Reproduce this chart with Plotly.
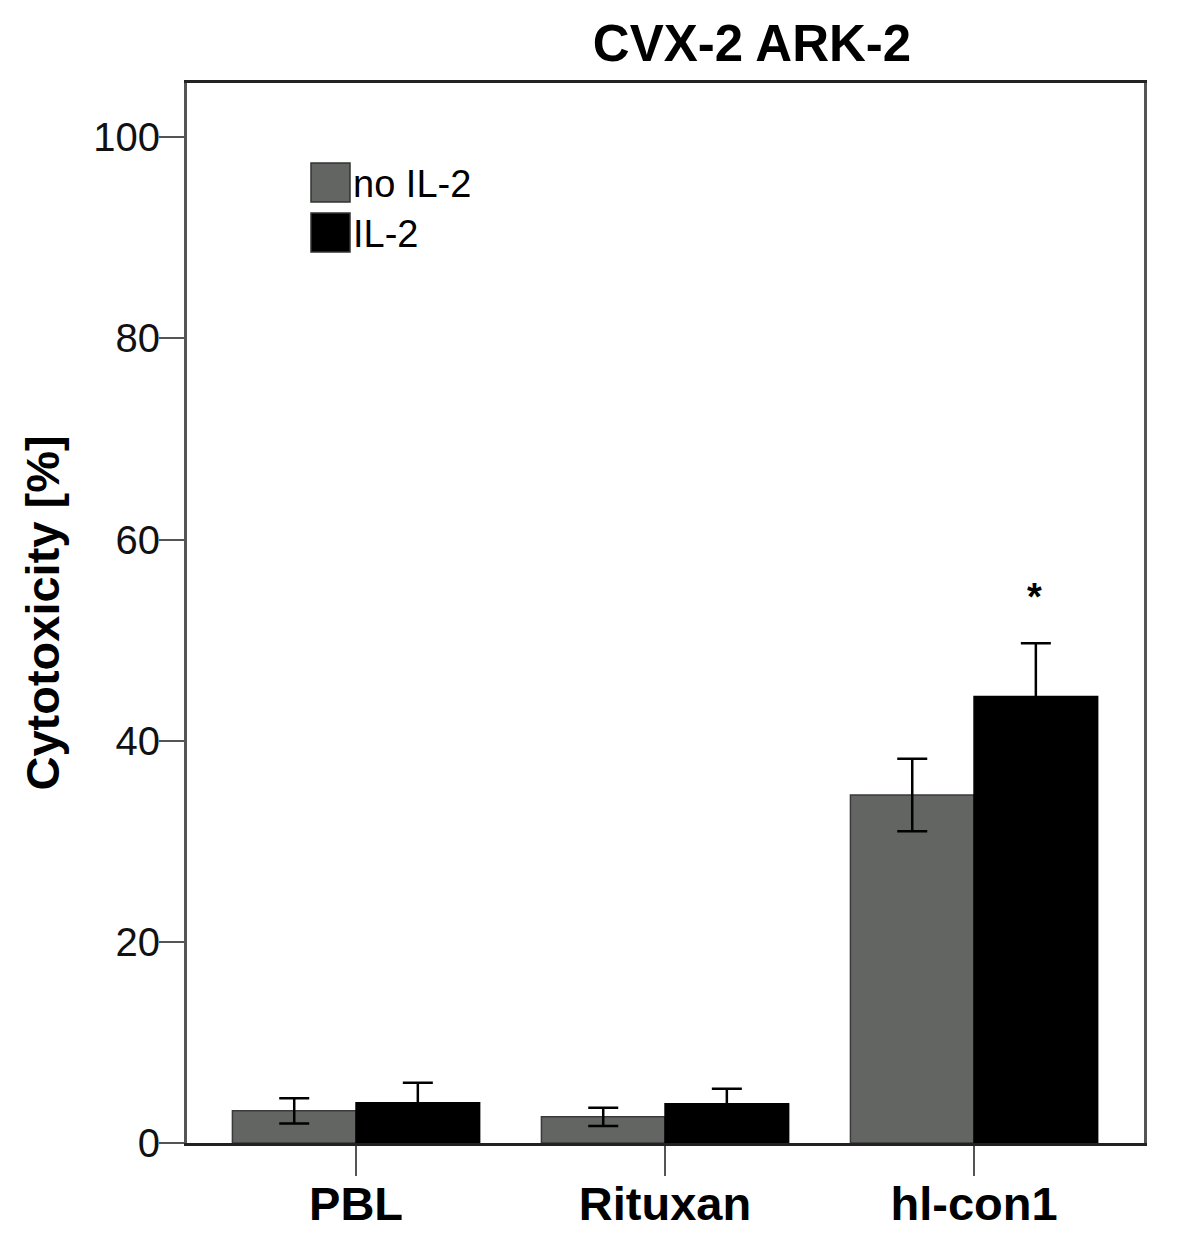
import plotly.graph_objects as go

# categorias e séries
categories = ['PBL', 'Rituxan', 'hl-con1']
no_il2 = [3.2, 2.6, 34.6]
no_il2_err = [1.25, 0.9, 3.6]
il2 = [4.0, 3.9, 44.4]
il2_err = [2.0, 1.5, 5.3]
y_ticks = [0, 20, 40, 60, 80, 100]

gray = '#626562'
font_reg = 'Liberation Sans, Arial, sans-serif'

# a página tem margem de 8px no body: compensar nas margens
off = 8
L, R, T, B = 187 - off, 1200 - (1144 - off), 83 - off, 1246 - (1143 - off)
pw, ph = 1144 - 187, 1143 - 83

fig = go.Figure()
fig.add_trace(go.Bar(
    name='no IL-2', x=categories, y=no_il2,
    marker=dict(color=gray, line=dict(color='#3a3a3a', width=1.5)),
    error_y=dict(type='data', array=no_il2_err, color='black', thickness=2.5, width=15),
))
fig.add_trace(go.Bar(
    name='IL-2', x=categories, y=il2,
    marker=dict(color='black', line=dict(color='black', width=1.5)),
    error_y=dict(type='data', array=il2_err, color='black', thickness=2.5, width=15),
))

# asterisco de significância acima do hl-con1 IL-2
fig.add_annotation(x='hl-con1', y=il2[2] + il2_err[2] + 4.6, text='<b>*</b>', showarrow=False,
                   xshift=60, font=dict(family=font_reg, size=38, color='black'))

# legenda desenhada à mão (caixas grandes como na figura original)
legend_items = [('no IL-2', gray), ('IL-2', 'black')]
for i, (lab, col) in enumerate(legend_items):
    y0 = 163 + i * 50
    fig.add_shape(type='rect', xref='paper', yref='paper',
                  x0=(311 - 187) / pw, x1=(350 - 187) / pw,
                  y0=1 - (y0 + 39 - 83) / ph, y1=1 - (y0 - 83) / ph,
                  fillcolor=col, line=dict(color='#333', width=1.5))
    fig.add_annotation(xref='paper', yref='paper', x=(351 - 187) / pw,
                       y=1 - (y0 + 21 - 83) / ph, text=lab, showarrow=False,
                       xanchor='left', yanchor='middle',
                       font=dict(family=font_reg, size=38, color='black'))

fig.update_layout(
    width=1200, height=1246,
    barmode='group', bargap=0.2, bargroupgap=0,
    showlegend=False,
    paper_bgcolor='white', plot_bgcolor='white',
    margin=dict(l=L, r=R, t=T, b=B, autoexpand=False),
    title=dict(text='<b>CVX-2 ARK-2</b>', x=(752 - off) / 1200, xanchor='center',
               y=1 - (43 - off) / 1246, yanchor='middle',
               font=dict(family=font_reg, size=51, color='black')),
    font=dict(family=font_reg, color='black'),
)
fig.update_xaxes(
    range=[-0.547, 2.55], showline=True, linecolor='#222', linewidth=3, mirror=True,
    ticks='outside', ticklen=30, tickwidth=2, tickcolor='#555', ticklabelstandoff=-12,
    tickfont=dict(family=font_reg, size=47, color='black'),
    tickprefix='<b>', ticksuffix='</b>', showgrid=False, automargin=False,
)
fig.update_yaxes(
    range=[0, 105.4], tickvals=y_ticks, showline=True, linecolor='#555', linewidth=3, mirror=True,
    ticks='outside', ticklen=25, tickwidth=2, tickcolor='#555', ticklabelstandoff=-9,
    tickfont=dict(family=font_reg, size=40, color='#111'), showgrid=False, zeroline=False,
    automargin=False,
    title=dict(text='<b>Cytotoxicity [%]</b>', font=dict(family=font_reg, size=47, color='black'),
               standoff=19),
)

fig.write_html('out.html')
